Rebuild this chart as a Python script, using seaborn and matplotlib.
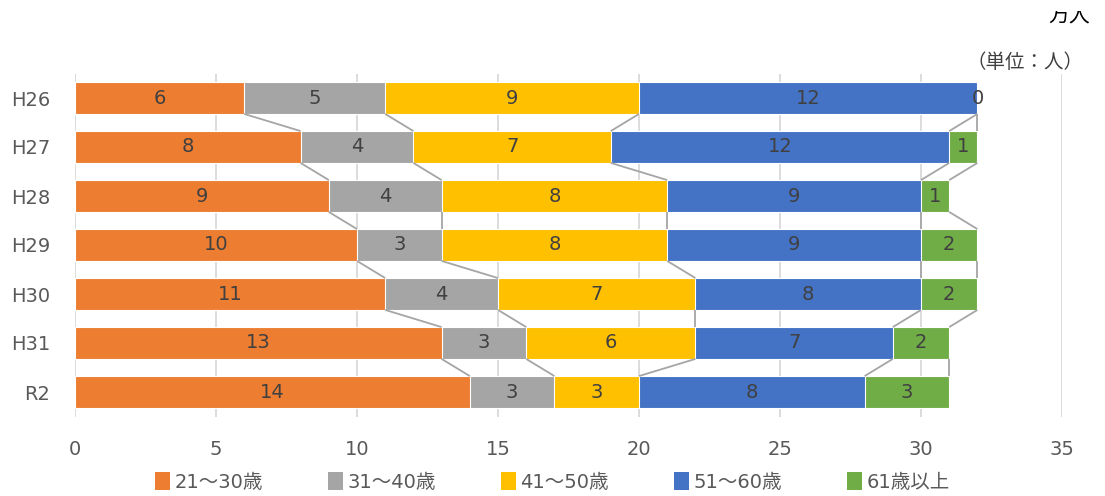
import matplotlib
matplotlib.use("Agg")
import matplotlib.pyplot as plt
import seaborn as sns
import pandas as pd
import numpy as np
from matplotlib.patches import Patch, Rectangle

years = ["H26", "H27", "H28", "H29", "H30", "H31", "R2"]
series_names = ["21～30歳", "31～40歳", "41～50歳", "51～60歳", "61歳以上"]
age_21_30 = [6, 8, 9, 10, 11, 13, 14]
age_31_40 = [5, 4, 4, 3, 4, 3, 3]
age_41_50 = [9, 7, 8, 8, 7, 6, 3]
age_51_60 = [12, 12, 9, 9, 8, 7, 8]
age_61_up = [0, 1, 1, 2, 2, 2, 3]
colors = ["#ED7D31", "#A5A5A5", "#FFC000", "#4472C4", "#70AD47"]
x_ticks = [0, 5, 10, 15, 20, 25, 30, 35]

sns.set_theme(style="white")
plt.rcParams["font.family"] = ["DejaVu Sans", "Noto Sans CJK JP"]

values = np.array([age_21_30, age_31_40, age_41_50, age_51_60, age_61_up], dtype=float)
cums = np.cumsum(values, axis=0)

W, H = 1105, 496
fig = plt.figure(figsize=(W / 100, H / 100), dpi=100)
ax = fig.add_axes([75 / W, 1 - 416.5 / H, (1062 - 75) / W, (416.5 - 73.5) / H])

bw = 0.65
# draw cumulative bars from largest to smallest so they stack visually
for k in range(len(series_names) - 1, -1, -1):
    df = pd.DataFrame({"year": years, "val": cums[k]})
    sns.barplot(data=df, x="val", y="year", orient="y", color=colors[k], width=bw,
                ax=ax, edgecolor="white", linewidth=0.8, saturation=1, errorbar=None)

# series lines
for k in range(len(series_names)):
    for i in range(len(years) - 1):
        ax.plot([cums[k][i], cums[k][i + 1]], [i + bw / 2, i + 1 - bw / 2],
                color="#A5A5A5", lw=1.3, zorder=1, solid_capstyle="butt")

# data labels
for k in range(len(series_names)):
    for i in range(len(years)):
        v = values[k][i]
        xc = cums[k][i] - v / 2
        ax.text(xc, i, f"{int(v)}", ha="center", va="center", fontsize=14,
                color="#404040", zorder=5)

ax.set_xlim(0, 35)
ax.set_ylim(len(years) - 0.5, -0.5)
ax.set_xticks(x_ticks)
ax.set_xticklabels([str(t) for t in x_ticks])
ax.grid(axis="x", color="#D9D9D9", lw=1.3)
ax.set_axisbelow(True)
for s in ax.spines.values():
    s.set_visible(False)
ax.tick_params(axis="x", length=0, pad=17, labelsize=14, labelcolor="#595959")
ax.tick_params(axis="y", length=0, pad=18, labelsize=14, labelcolor="#595959")
ax.set_xlabel("")
ax.set_ylabel("")

handles = [Patch(facecolor=c, edgecolor="none") for c in colors]
fig.legend(handles, series_names, loc="center", bbox_to_anchor=(0.5, 1 - 482 / H), ncol=5,
           frameon=False, fontsize=14, handlelength=0.75, handleheight=1.05, handletextpad=0.25,
           columnspacing=3.35, labelcolor="#595959")

fig.text(1083 / W, 1 - 63 / H, "（単位：人）", ha="right", va="center", fontsize=14, color="#404040")
t = fig.text(1090 / W, 1 - 17 / H, "万人", ha="right", va="center", fontsize=15, color="#000000")
clip = Rectangle((0, 0), 1, 1 - 11 / H, transform=fig.transFigure, facecolor="none", edgecolor="none")
fig.add_artist(clip)
t.set_clip_path(clip)

fig.savefig("out.png", dpi=100)
